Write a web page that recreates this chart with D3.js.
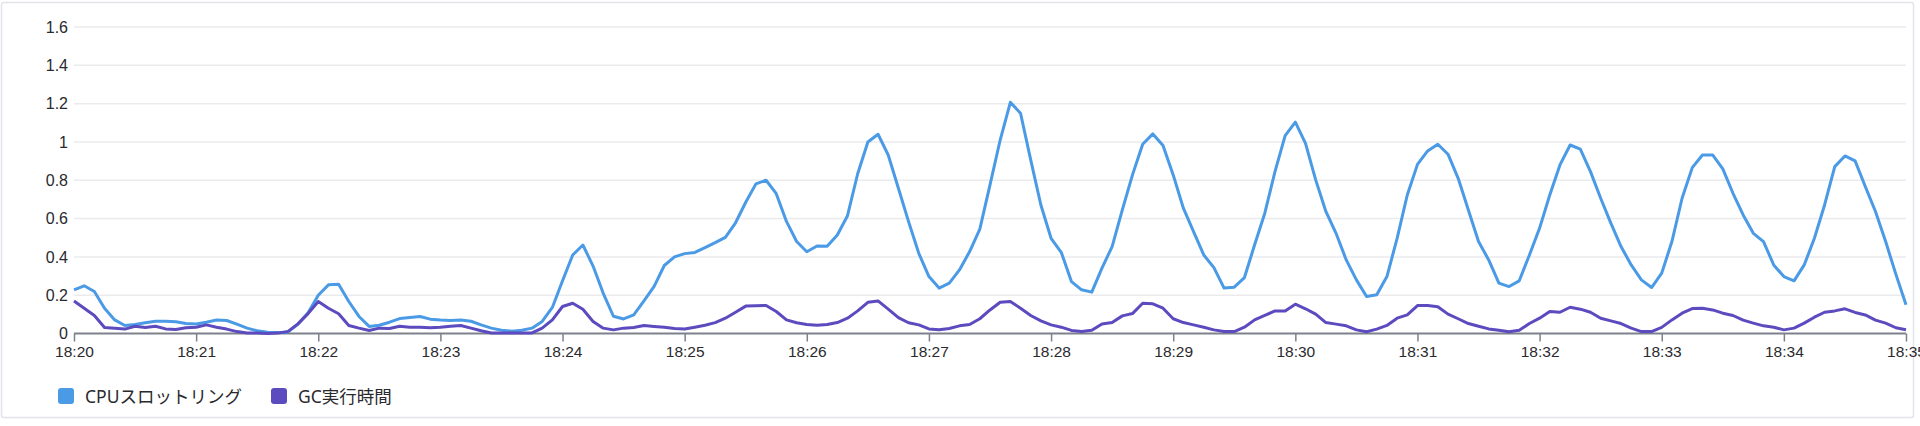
<!DOCTYPE html>
<html><head><meta charset="utf-8">
<script src="https://cdn.jsdelivr.net/npm/d3@7"></script>
<style>
html,body{margin:0;padding:0;background:#fff;}
svg{display:block;font-family:"Noto Sans","Noto Sans CJK JP",sans-serif;}
</style></head>
<body><svg id="c" width="1920" height="426"></svg>
<script>
// 5-second samples from 18:20:00 to 18:35:00
const startTime = "2024-01-01T18:20:00";
const endTime = "2024-01-01T18:35:00";
const stepSeconds = 5;
const seriesNames = ["CPUスロットリング", "GC実行時間"];
const cpuThrottling = [0.228,0.249,0.219,0.132,0.071,0.042,0.047,0.056,0.064,0.064,0.061,0.052,0.05,0.059,0.07,0.068,0.049,0.028,0.014,0.007,0.005,0.007,0.048,0.108,0.2,0.254,0.257,0.167,0.089,0.037,0.043,0.059,0.078,0.083,0.089,0.075,0.07,0.068,0.071,0.064,0.045,0.028,0.017,0.012,0.017,0.028,0.063,0.136,0.275,0.41,0.462,0.352,0.21,0.09,0.076,0.097,0.17,0.246,0.355,0.4,0.417,0.423,0.448,0.474,0.502,0.578,0.685,0.781,0.8,0.73,0.585,0.48,0.427,0.457,0.456,0.514,0.615,0.834,1.0,1.04,0.932,0.758,0.584,0.419,0.297,0.237,0.263,0.332,0.428,0.545,0.776,1.01,1.207,1.15,0.906,0.671,0.497,0.424,0.271,0.228,0.216,0.341,0.454,0.645,0.828,0.988,1.042,0.981,0.828,0.654,0.532,0.41,0.344,0.237,0.242,0.292,0.463,0.628,0.845,1.033,1.103,0.993,0.802,0.637,0.523,0.384,0.28,0.193,0.202,0.297,0.497,0.723,0.883,0.953,0.988,0.936,0.81,0.645,0.48,0.384,0.263,0.245,0.275,0.41,0.55,0.723,0.88,0.984,0.962,0.845,0.706,0.576,0.454,0.358,0.28,0.24,0.315,0.48,0.706,0.866,0.932,0.932,0.859,0.732,0.619,0.523,0.48,0.358,0.297,0.275,0.358,0.497,0.671,0.871,0.927,0.901,0.767,0.637,0.48,0.31,0.15];
const gcTime = [0.17,0.132,0.094,0.031,0.028,0.023,0.038,0.031,0.038,0.024,0.021,0.03,0.033,0.045,0.033,0.023,0.01,0.003,0.002,0.0,0.002,0.01,0.05,0.104,0.167,0.132,0.103,0.042,0.028,0.016,0.028,0.026,0.038,0.033,0.033,0.03,0.033,0.038,0.042,0.028,0.014,0.003,0.002,0.002,0.002,0.003,0.028,0.071,0.141,0.158,0.127,0.063,0.028,0.019,0.028,0.031,0.042,0.037,0.033,0.026,0.024,0.033,0.043,0.057,0.08,0.111,0.143,0.145,0.146,0.115,0.071,0.056,0.047,0.043,0.047,0.057,0.08,0.118,0.163,0.17,0.127,0.083,0.056,0.045,0.024,0.019,0.026,0.04,0.047,0.077,0.123,0.163,0.167,0.132,0.094,0.066,0.045,0.033,0.016,0.01,0.017,0.05,0.057,0.092,0.104,0.158,0.155,0.132,0.077,0.057,0.045,0.033,0.019,0.01,0.01,0.033,0.071,0.094,0.118,0.118,0.153,0.129,0.101,0.057,0.049,0.04,0.019,0.009,0.023,0.042,0.08,0.097,0.146,0.146,0.14,0.101,0.077,0.052,0.038,0.024,0.017,0.009,0.017,0.052,0.08,0.115,0.111,0.137,0.127,0.111,0.08,0.066,0.052,0.028,0.01,0.01,0.032,0.071,0.106,0.13,0.132,0.123,0.106,0.094,0.07,0.054,0.04,0.033,0.019,0.028,0.054,0.085,0.111,0.118,0.129,0.11,0.097,0.07,0.054,0.03,0.02];
const yTickValues = [0,0.2,0.4,0.6,0.8,1,1.2,1.4,1.6];
const colors = ["#4a9ae6", "#5c4bbf"];

const svg = d3.select("#c");
const m = {left:74, right:1906, top:27, bottom:333.5};
const t0 = new Date(startTime), t1 = new Date(endTime);
const x = d3.scaleTime().domain([t0,t1]).range([m.left,m.right]);
const y = d3.scaleLinear().domain([0,1.6]).range([m.bottom,m.top]);

// frame
svg.append("rect").attr("x",1.5).attr("y",2.5).attr("width",1912).attr("height",415)
  .attr("rx",2).attr("fill","none").attr("stroke","#e2e4ea").attr("stroke-width",1.5);

// grid
svg.append("g").selectAll("line").data(yTickValues.filter(v=>v>0)).join("line")
  .attr("x1",m.left).attr("x2",m.right).attr("y1",d=>y(d)).attr("y2",d=>y(d))
  .attr("stroke","#ebebee").attr("stroke-width",1.5);

// y axis labels
const yAxis = d3.axisLeft(y).tickValues(yTickValues).tickSize(0).tickPadding(6).tickFormat(d=>String(d));
const gy = svg.append("g").attr("transform",`translate(${m.left},0)`).call(yAxis);
gy.select(".domain").remove();
gy.selectAll("text").attr("font-size",16).attr("fill","#2a2a2e").attr("font-family",null);

// x axis
const xAxis = d3.axisBottom(x).ticks(d3.timeMinute.every(1)).tickFormat(d3.timeFormat("%H:%M")).tickSize(8).tickPadding(4);
const gx = svg.append("g").attr("transform",`translate(0,${m.bottom})`).call(xAxis);
gx.select(".domain").attr("stroke","#7d818c").attr("stroke-width",2).attr("d",`M${m.left},0H${m.right}`);
gx.selectAll(".tick line").attr("stroke","#7d818c").attr("stroke-width",1.5);
gx.selectAll("text").attr("font-size",15.5).attr("fill","#2a2a2e").attr("font-family",null);

// lines
const times = cpuThrottling.map((_,i)=>new Date(t0.getTime()+i*stepSeconds*1000));
const line = d3.line().x((d,i)=>x(times[i])).y(d=>y(d));
[cpuThrottling, gcTime].forEach((s,k)=>{
  svg.append("path").datum(s).attr("d",line).attr("fill","none")
    .attr("stroke",colors[k]).attr("stroke-width",3).attr("stroke-linejoin","round");
});

// legend
const lg = svg.append("g").attr("transform","translate(58,388)");
const legendX = [0, 213];
seriesNames.forEach((n,k)=>{
  const g = lg.append("g").attr("transform",`translate(${legendX[k]},0)`);
  g.append("rect").attr("width",16).attr("height",16).attr("rx",3).attr("fill",colors[k]);
  g.append("text").attr("x",27).attr("y",14.5).attr("font-size",17.5).attr("fill","#2a2a2e").text(n);
});
</script></body></html>
